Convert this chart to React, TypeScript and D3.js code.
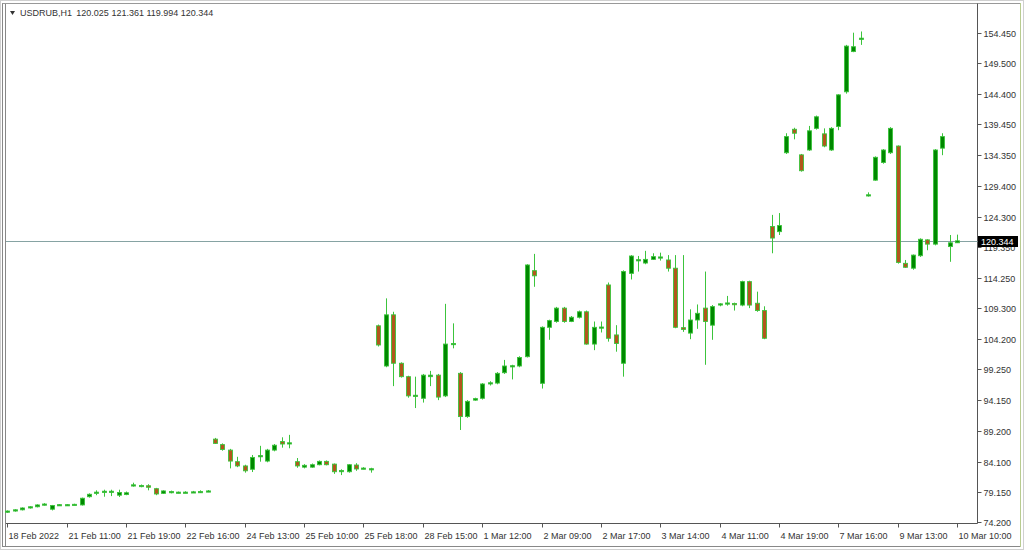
import React from "react";
import * as d3 from "d3";

// ---- data ----
const opens = [
  75.8, 76.0, 76.2, 76.5, 76.7, 77.0, 76.3, 76.95, 77.0, 77.0,
  77.0, 78.35, 78.9, 79.1, 79.2, 78.6, 78.7, 80.1, 80.15, 80.15,
  79.67, 78.9, 79.0, 79.0, 79.05, 79.1, 79.1, 79.2, 87.8, 86.9,
  86.0, 84.1, 83.4, 82.85, 84.9, 84.2, 86.0, 87.4, 87.0, 84.1,
  83.2, 83.2, 83.6, 84.15, 83.7, 82.55, 82.45, 83.55, 82.95, 82.85,
  106.4, 99.8, 108.2, 100.25, 98.05, 94.8, 94.5, 98.05, 98.3, 94.9,
  103.3, 98.6, 91.5, 94.2, 94.5, 96.9, 97.0, 98.7, 99.7, 99.8,
  101.33, 115.45, 96.96, 106.15, 107.1, 109.3, 107.1, 107.8, 108.7, 103.4,
  106.1, 113.1, 104.9, 100.25, 115.0, 117.15, 116.7, 117.3, 117.6, 117.2,
  115.85, 106.1, 105.2, 107.35, 109.3, 106.5, 109.85, 110.05, 110.05, 109.8,
  113.65, 110.1, 108.9, 122.7, 121.85, 134.8, 138.65, 134.45, 135.25, 138.8,
  137.9, 135.25, 139.1, 144.8, 151.4, 153.4, 127.9, 130.3, 133.2, 134.8,
  135.9, 116.65, 115.85, 117.9, 120.5, 119.8, 135.55, 119.4, 120.025,
];
const highs = [
  76.1, 76.3, 76.6, 76.8, 77.1, 77.3, 77.0, 77.15, 77.15, 77.2,
  78.2, 78.9, 79.4, 79.5, 79.5, 79.5, 79.2, 80.65, 80.35, 80.4,
  79.8, 79.4, 79.35, 79.2, 79.25, 79.3, 79.4, 79.45, 88.0, 87.1,
  86.2, 84.9, 83.6, 85.2, 86.7, 86.2, 87.0, 88.1, 88.5, 84.7,
  83.7, 83.8, 84.3, 84.3, 83.8, 82.85, 83.7, 83.85, 83.2, 83.1,
  106.6, 110.9, 108.7, 100.4, 98.2, 98.05, 98.5, 99.0, 98.5, 110.0,
  106.8, 98.8, 94.2, 94.6, 97.0, 97.3, 98.8, 100.8, 100.0, 101.4,
  116.5, 118.2, 106.3, 107.4, 109.5, 109.5, 108.0, 108.9, 108.9, 107.1,
  107.1, 113.5, 106.5, 115.5, 118.0, 117.86, 118.7, 118.3, 118.4, 118.0,
  118.0, 118.0, 109.1, 109.9, 115.3, 109.8, 110.1, 111.3, 110.2, 113.8,
  113.8, 112.0, 109.6, 124.6, 124.9, 138.0, 138.9, 134.6, 139.2, 140.9,
  138.8, 139.0, 144.4, 152.5, 154.5, 154.7, 128.3, 134.2, 135.4, 139.0,
  136.0, 117.2, 118.1, 120.75, 120.6, 135.4, 138.0, 121.3, 121.361,
];
const lows = [
  75.7, 75.9, 76.1, 76.4, 76.6, 76.9, 76.1, 76.9, 76.9, 76.95,
  76.9, 78.2, 78.6, 78.35, 78.45, 78.3, 78.6, 80.0, 79.9, 79.4,
  78.6, 78.8, 78.9, 78.9, 78.95, 79.0, 79.0, 79.1, 87.0, 85.9,
  83.0, 83.2, 82.3, 82.4, 84.1, 84.0, 85.8, 86.4, 86.3, 83.1,
  83.0, 83.1, 83.5, 83.5, 82.1, 81.9, 82.3, 82.6, 82.85, 82.3,
  103.0, 99.6, 96.5, 97.9, 94.6, 92.9, 93.8, 96.5, 94.2, 94.7,
  102.7, 89.3, 91.3, 94.1, 94.3, 96.6, 96.8, 98.5, 97.6, 99.6,
  101.2, 112.8, 96.1, 104.1, 106.9, 106.9, 107.0, 107.6, 103.3, 102.4,
  105.3, 103.8, 102.15, 98.05, 114.0, 115.3, 116.5, 117.2, 117.1, 115.3,
  106.0, 105.4, 104.2, 105.9, 100.0, 104.1, 109.6, 109.7, 108.9, 109.6,
  109.3, 108.7, 104.2, 118.3, 121.3, 134.6, 137.0, 131.7, 135.1, 138.6,
  135.7, 135.1, 138.5, 144.5, 151.3, 152.5, 127.6, 130.2, 133.0, 134.6,
  116.6, 115.9, 115.6, 117.7, 118.8, 119.6, 134.4, 116.9, 119.994,
];
const closes = [
  76.0, 76.2, 76.5, 76.7, 77.0, 77.15, 76.9, 77.05, 77.05, 77.1,
  78.1, 78.75, 79.1, 79.25, 79.25, 79.05, 79.0, 80.3, 80.2, 79.9,
  78.8, 79.3, 79.2, 79.1, 79.1, 79.15, 79.2, 79.3, 87.1, 86.1,
  84.2, 83.4, 82.6, 84.8, 85.1, 86.0, 86.8, 87.0, 87.2, 83.4,
  83.5, 83.6, 84.15, 83.6, 82.45, 82.65, 83.6, 82.9, 83.05, 82.95,
  103.25, 108.2, 100.25, 98.05, 94.9, 95.0, 98.3, 98.3, 94.7, 103.4,
  103.5, 91.5, 94.0, 94.45, 96.85, 97.05, 98.6, 99.8, 99.85, 101.2,
  116.38, 114.6, 106.15, 107.25, 109.3, 107.1, 107.8, 108.7, 103.4, 106.15,
  106.2, 104.35, 103.5, 115.3, 117.85, 117.25, 117.3, 117.75, 117.7, 115.85,
  106.15, 105.8, 107.35, 108.45, 107.1, 109.55, 110.0, 110.15, 109.95, 113.65,
  109.8, 108.9, 104.35, 120.8, 122.85, 137.45, 138.0, 131.85, 138.4, 140.7,
  135.9, 138.8, 144.3, 152.3, 152.2, 153.6, 127.9, 134.05, 135.25, 138.8,
  116.8, 116.0, 118.0, 120.6, 119.8, 135.25, 137.45, 120.02, 120.344,
];

const timeTickIndex = [0, 8, 16, 24, 32, 40, 48, 56, 64, 72, 80, 88, 96, 104, 112, 120, 128];
const timeTickLabels = [
  "18 Feb 2022", "21 Feb 11:00", "21 Feb 19:00", "22 Feb 16:00", "24 Feb 13:00",
  "25 Feb 10:00", "25 Feb 18:00", "28 Feb 15:00", "1 Mar 12:00", "2 Mar 09:00",
  "2 Mar 17:00", "3 Mar 14:00", "4 Mar 11:00", "4 Mar 19:00", "7 Mar 16:00",
  "9 Mar 13:00", "10 Mar 10:00",
];
const priceTickLabels = [
  "154.450", "149.500", "144.400", "139.450", "134.350", "129.400", "124.300",
  "119.350", "114.250", "109.300", "104.200", "99.250", "94.150", "89.200",
  "84.100", "79.150", "74.200",
];
const symbol = "USDRUB,H1";
const lastPrice = 120.344;

const W = 1024;
const H = 550;
const FONT = "'Liberation Sans', Arial, sans-serif";

export default function App() {
  const n = opens.length;
  const x = d3.scaleLinear().domain([0, n - 1]).range([7.3, 957.1]);
  const y = d3.scaleLinear().domain([74.2, 154.45]).range([522, 33]);

  const plotLeft = 6;
  const plotRight = 977.5;
  const plotBottom = 523.5;
  const bullFill = "#008800";
  const bearFill = "#b2561c";
  const wick = "#3cc43c";

  const fmt = d3.format(".3f");
  const ohlcText = `${fmt(opens[n - 1])} ${fmt(highs[n - 1])} ${fmt(lows[n - 1])} ${fmt(closes[n - 1])}`;

  return (
    <svg
      width={W}
      height={H}
      style={{ position: "absolute", left: 0, top: 0, background: "#fff" }}
      fontFamily={FONT}
    >
      {/* frame */}
      <rect x={0.5} y={0.5} width={W - 1} height={H - 1} fill="none" stroke="#d0d0d0" />
      <line x1={2.5} x2={2.5} y1={3} y2={547} stroke="#888" />
      <line x1={5.5} x2={5.5} y1={3} y2={547} stroke="#888" />
      <line x1={2.5} x2={1020} y1={3.5} y2={3.5} stroke="#999" />
      <line x1={1020.5} x2={1020.5} y1={3} y2={547} stroke="#b8cc90" />
      <line x1={2.5} x2={1020} y1={546.5} y2={546.5} stroke="#888" />

      {/* axes lines */}
      <line x1={plotRight} x2={plotRight} y1={3.5} y2={plotBottom} stroke="#555" />
      <line x1={plotLeft} x2={plotRight} y1={plotBottom} y2={plotBottom} stroke="#555" />

      {/* price ticks */}
      {priceTickLabels.map((t) => {
        const yy = Math.round(y(+t)) + 0.5;
        return (
          <g key={t}>
            <line x1={plotRight} x2={plotRight + 4} y1={yy} y2={yy} stroke="#555" />
            <text x={plotRight + 6} y={yy} dy="0.35em" fontSize={9} fill="#333">
              {t}
            </text>
          </g>
        );
      })}

      {/* time ticks */}
      {timeTickIndex.map((idx, k) => {
        const xx = Math.round(x(idx)) + 0.5;
        return (
          <g key={idx}>
            <line x1={xx} x2={xx} y1={plotBottom} y2={plotBottom + 4} stroke="#555" />
            <text x={xx + 1} y={539} fontSize={9} fill="#333">
              {timeTickLabels[k]}
            </text>
          </g>
        );
      })}

      {/* last price line */}
      <line
        x1={plotLeft}
        x2={plotRight}
        y1={Math.round(y(lastPrice)) + 0.5}
        y2={Math.round(y(lastPrice)) + 0.5}
        stroke="#86a3a3"
      />

      {/* candles */}
      {opens.map((o, i) => {
        const c = closes[i];
        const cx = Math.round(x(i)) + 0.5;
        const top = y(Math.max(o, c));
        const bot = y(Math.min(o, c));
        const h = Math.max(bot - top, 1.2);
        const up = c >= o;
        return (
          <g key={i}>
            <line x1={cx} x2={cx} y1={y(highs[i])} y2={y(lows[i])} stroke={wick} strokeWidth={1} />
            <rect
              x={cx - 2}
              y={top}
              width={4}
              height={h}
              fill={up ? bullFill : bearFill}
              stroke={wick}
              strokeWidth={0.9}
            />
          </g>
        );
      })}

      {/* last price label */}
      <rect x={978} y={Math.round(y(lastPrice)) - 5} width={40} height={11} fill="#000" />
      <text x={981} y={Math.round(y(lastPrice)) + 0.5} dy="0.35em" fontSize={9} fill="#fff">
        {fmt(lastPrice)}
      </text>

      {/* title */}
      <path d="M10,11 L15,11 L12.5,15 Z" fill="#333" />
      <text x={20} y={16} fontSize={9} fill="#333">
        {symbol}
        <tspan dx={5}>{ohlcText}</tspan>
      </text>
    </svg>
  );
}
